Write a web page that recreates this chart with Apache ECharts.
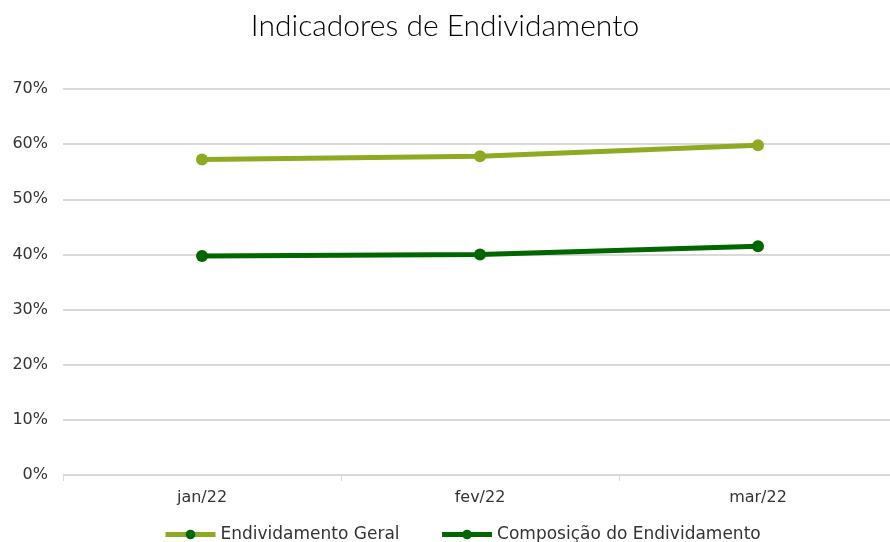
<!DOCTYPE html>
<html><head><meta charset="utf-8">
<script src="https://cdn.jsdelivr.net/npm/echarts@6/dist/echarts.min.js"></script>
<style>html,body{margin:0;padding:0;background:#fff}#c{width:890px;height:542px}</style>
</head><body><div id="c"></div>
<script>
const categories = ['jan/22', 'fev/22', 'mar/22'];
const endividamentoGeral = [0.572, 0.578, 0.598];
const composicaoEndividamento = [0.397, 0.400, 0.415];
const yTicks = [0, 0.1, 0.2, 0.3, 0.4, 0.5, 0.6, 0.7];
const seriesNames = ['Endividamento Geral', 'Composição do Endividamento'];

const FONT = '"DejaVu Sans", sans-serif';
const chart = echarts.init(document.getElementById('c'), null, {renderer: 'canvas'});
chart.setOption({
  animation: false,
  title: {
    text: 'Indicadores de Endividamento',
    left: 'center', top: 6,
    textStyle: {fontFamily: 'Lato, sans-serif', fontSize: 30, fontWeight: 300, color: '#000'}
  },
  grid: {left: 63, width: 834, top: 89, bottom: 67, outerBoundsMode: 'none', containLabel: false},
  legend: {
    top: 521, left: 158, itemGap: 40, itemWidth: 50, itemHeight: 12,
    textStyle: {fontFamily: FONT, fontSize: 17, color: '#333'},
    data: [
      {name: seriesNames[0], itemStyle: {color: '#006600'}, lineStyle: {width: 5}},
      {name: seriesNames[1], itemStyle: {color: '#006600'}, lineStyle: {width: 5}}
    ]
  },
  xAxis: {
    type: 'category', data: categories, boundaryGap: true,
    axisLine: {lineStyle: {color: '#d9d9d9', width: 1}},
    axisTick: {show: true, length: 6, lineStyle: {color: '#d9d9d9'}},
    axisLabel: {fontFamily: FONT, fontSize: 16, color: '#333', margin: 15}
  },
  yAxis: {
    type: 'value', min: yTicks[0], max: yTicks[yTicks.length - 1], interval: 0.1,
    axisLine: {show: false}, axisTick: {show: false},
    splitLine: {lineStyle: {color: '#d9d9d9', width: 2}},
    axisLabel: {fontFamily: FONT, fontSize: 16, color: '#333', margin: 15,
      formatter: v => Math.round(v * 100) + '%'}
  },
  series: [
    {
      name: seriesNames[0], type: 'line', data: endividamentoGeral,
      symbol: 'circle', symbolSize: 12,
      lineStyle: {color: '#8EAA22', width: 5},
      itemStyle: {color: '#8EAA22'}
    },
    {
      name: seriesNames[1], type: 'line', data: composicaoEndividamento,
      symbol: 'circle', symbolSize: 12,
      lineStyle: {color: '#006600', width: 5},
      itemStyle: {color: '#006600'}
    }
  ]
});
</script></body></html>
